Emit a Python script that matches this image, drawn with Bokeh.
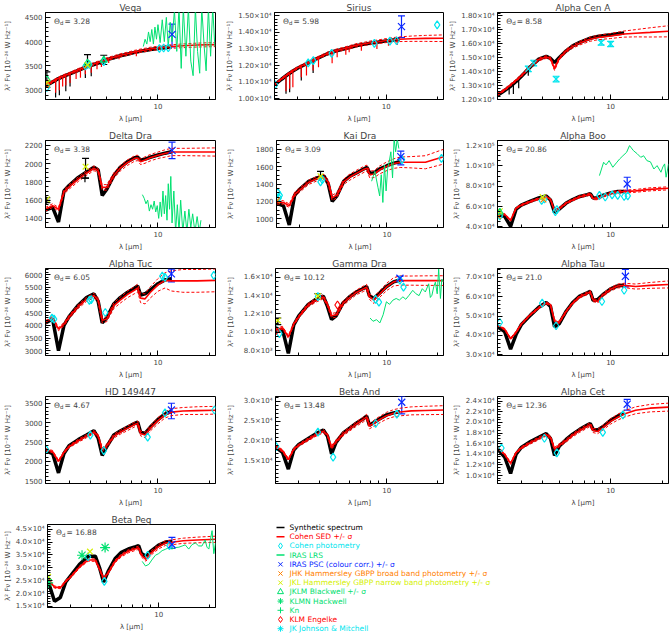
import math
from bokeh.plotting import figure
from bokeh.layouts import column, row
from bokeh.models import Range1d, FixedTicker, Whisker, TeeHead, ColumnDataSource, Label
from bokeh.embed import file_html
from bokeh.resources import INLINE
from bokeh.core.properties import value

FONT = "DejaVu Sans"
C_BLACK = "#000000"
C_RED = "#ff0000"
C_CYAN = "#00e5ee"
C_GREEN = "#00e070"
C_BLUE = "#0a28ff"
C_ORANGE = "#ff8000"
C_YELLOW = "#d4f000"

X_RANGE = (2.18, 21.8)
X_TICKS = [10]
X_TICK_LABELS = {10: "10"}
X_MINOR = [3, 4, 5, 6, 7, 8, 9, 20]

# common wavelength grid (micron)
WL = [2.18, 2.4, 2.6, 2.8, 3.0, 3.4, 3.8, 4.2, 4.45, 4.7, 5.0, 5.5, 6.0, 6.6, 7.3, 7.6, 7.9, 8.4, 9.0, 10.0, 11.0, 12.0, 14.0, 17.0, 21.8]

# ---------------- Vega
SED_VEGA = [3100, 3180, 3250, 3300, 3340, 3420, 3490, 3540, 3570, 3600, 3640, 3680, 3720, 3750, 3790, 3800, 3815, 3830, 3850, 3870, 3885, 3900, 3915, 3930, 3940]
SYN_VEGA = [3090, 3170, 3240, 3290, 3330, 3410, 3480, 3530, 3560, 3590, 3630, 3670, 3710, 3740, 3780, 3790, 3805, 3820, 3840, 3860, 3875, 3890]
SIG_VEGA = [25, 25, 25, 25, 25, 28, 28, 30, 30, 30, 30, 30, 32, 32, 32, 32, 34, 34, 35, 35, 36, 36, 38, 40, 42]
SPK_RED_VEGA = [(2.5, 3215, 2950), (2.63, 3255, 3000), (2.75, 3290, 3080), (2.87, 3310, 3100), (3.04, 3345, 3150), (3.3, 3400, 3230), (3.5, 3440, 3260), (3.74, 3480, 3330), (4.05, 3520, 3360), (4.38, 3560, 3430), (4.65, 3595, 3480), (5.13, 3650, 3560), (5.9, 3715, 3640), (7.46, 3795, 3700)]
SPK_BLK_VEGA = [(2.5, 3210, 2850), (2.63, 3250, 2900), (2.87, 3300, 2980), (3.04, 3340, 3080), (3.74, 3475, 3250), (4.05, 3515, 3290)]
LRS_VEGA = [(8.2, 3900), (8.4, 4050), (8.6, 3950), (8.8, 4200), (9.0, 4000), (9.2, 4250), (9.4, 3950), (9.6, 4300), (9.8, 4050), (10.0, 4350), (10.3, 3980), (10.6, 4450), (10.9, 4000), (11.2, 4500), (11.5, 3900), (11.8, 4400), (12.1, 4000), (12.5, 4650), (12.9, 3800), (13.3, 4700), (13.7, 3450), (14.1, 4700), (14.6, 3700), (15.1, 4700), (15.6, 3600), (16.1, 3300), (16.6, 4700), (17.1, 3800), (17.6, 3350), (18.1, 4700), (18.7, 3900), (19.2, 3400), (19.8, 4700), (20.4, 3700), (21.0, 4700), (21.6, 3900)]
COHEN_VEGA = [(2.22, 3060), (3.75, 3500), (3.95, 3530), (4.8, 3590), (10.2, 3860), (10.8, 3870), (11.5, 3875)]
BLACKWELL_VEGA = [(2.22, 3230, 3060, 3380), (3.85, 3560, 3530, 3735), (4.8, 3620, 3530, 3720)]
JKL_VEGA = [(2.22, 3160), (3.85, 3520)]
JHK_VEGA = [(2.2, 3120)]
PSC_VEGA = [(12.1, 4150, 3890, 4360)]

# ---------------- Sirius
SED_SIR = [10860, 11200, 11470, 11700, 11880, 12150, 12400, 12600, 12720, 12810, 12900, 13000, 13100, 13220, 13300, 13330, 13360, 13400, 13440, 13510, 13560, 13590, 13620, 13640, 13650]
SYN_SIR = [10840, 11180, 11450, 11680, 11860, 12130, 12380, 12580, 12700, 12790, 12880, 12980, 13080, 13200, 13280, 13310, 13340, 13380, 13420, 13490, 13540, 13570]
SIG_SIR = [60, 60, 60, 60, 70, 70, 70, 80, 80, 80, 80, 90, 90, 100, 100, 100, 110, 110, 110, 120, 130, 140, 160, 180, 200]
SPK_RED_SIR = [(2.55, 11350, 10450), (2.68, 11500, 10600), (2.80, 11700, 10700), (3.14, 11980, 11300), (3.37, 12130, 11400), (3.69, 12340, 11700), (3.97, 12500, 11900), (4.78, 12830, 12150), (5.12, 12920, 12500), (5.76, 13050, 12650), (6.03, 13100, 12800), (7.12, 13280, 12900), (8.8, 13420, 13000), (10.3, 13520, 13200), (11.6, 13570, 13250)]
SPK_BLK_SIR = [(2.55, 11340, 10300), (2.68, 11490, 10400), (3.14, 11970, 11100), (3.69, 12330, 11550)]
COHEN_SIR = [(2.2, 10850), (3.45, 12170), (3.7, 12300), (4.75, 12740), (8.5, 13340), (10.5, 13480), (11.5, 13500), (20.0, 14450)]
PSC_SIR = [(12.3, 14350, 13690, 15000)]

# ---------------- Alpha Cen A
SED_ACEN = [12360, 12700, 13050, 13380, 13700, 14380, 14880, 15050, 14950, 14200, 14950, 15500, 15800, 16050, 16250, 16330, 16380, 16450, 16500, 16560, 16640, 16700, 16760, 16820, 16900]
SYN_ACEN = [12300, 12650, 12950, 13300, 13650, 14350, 14900, 15100, 14950, 14650, 15000, 15500, 15850, 16100, 16320, 16400, 16450, 16520, 16580, 16650, 16720, 16780]
SIG_ACEN = [80, 80, 80, 80, 90, 90, 100, 100, 100, 110, 110, 120, 120, 130, 140, 150, 150, 160, 170, 180, 200, 220, 260, 330, 400]
SPK_BLK_ACEN = [(2.55, 12950, 12360), (2.7, 13200, 12400), (2.9, 13500, 12800), (3.3, 14200, 13700)]
CYANERR_ACEN = [(3.3, 14200, 14000, 14400), (3.55, 14620, 14420, 14820), (4.8, 13470, 13270, 13670), (8.8, 16090, 15900, 16280), (10.0, 15990, 15800, 16180)]

# ---------------- Delta Dra
SED_DDRA = [1500, 1540, 1500, 1690, 1745, 1830, 1895, 1950, 1920, 1740, 1740, 1870, 1950, 2010, 2058, 2063, 2020, 2040, 2065, 2092, 2112, 2128, 2128, 2128, 2128]
SYN_DDRA = [1490, 1520, 1360, 1700, 1760, 1850, 1910, 1960, 1930, 1650, 1720, 1870, 1960, 2020, 2065, 2070, 2040, 2050, 2070, 2095, 2115, 2130]
SIG_DDRA = [20, 20, 20, 25, 25, 25, 25, 25, 25, 30, 30, 30, 30, 30, 30, 30, 30, 35, 35, 35, 40, 40, 40, 42, 45]
LRS_DDRA = [(8.1, 1660), (8.3, 1620), (8.5, 1560), (8.7, 1600), (8.9, 1480), (9.1, 1550), (9.3, 1500), (9.5, 1590), (9.7, 1470), (9.9, 1540), (10.1, 1400), (10.3, 1580), (10.5, 1420), (10.7, 1700), (10.9, 1450), (11.1, 1650), (11.3, 1380), (11.5, 1780), (11.7, 1500), (11.9, 1860), (12.1, 1350), (12.4, 1700), (12.7, 1250), (13.0, 1550), (13.3, 1250), (13.6, 1600), (14.0, 1250), (14.4, 1480), (14.8, 1250), (15.2, 1500), (15.6, 1300), (16.0, 1450), (16.5, 1250), (17.0, 1420), (17.5, 1250), (17.9, 1380)]
JKL_DDRA = [(2.22, 1610, 1572, 1626), (3.75, 1967, 1841, 2057)]
KN_DDRA = [(2.2, 1597), (3.72, 1841)]
PSC_DDRA = [(12.1, 2146, 2056, 2236)]

# ---------------- Kai Dra
SED_KDRA = [1190, 1188, 1150, 1282, 1330, 1420, 1460, 1480, 1420, 1240, 1270, 1425, 1480, 1525, 1570, 1582, 1507, 1515, 1560, 1605, 1635, 1650, 1650, 1650, 1714]
SYN_KDRA = [1180, 1150, 930, 1270, 1340, 1430, 1470, 1490, 1400, 1200, 1260, 1430, 1490, 1530, 1575, 1590, 1520, 1530, 1570, 1610, 1640, 1655]
SIG_KDRA = [20, 20, 20, 25, 25, 25, 25, 30, 30, 30, 30, 30, 35, 35, 35, 35, 40, 40, 45, 50, 55, 60, 65, 75, 85]
LRS_KDRA = [(8.09, 1432), (8.46, 1545), (8.84, 1357), (9.04, 1263), (9.24, 1507), (9.45, 1188), (9.66, 1620), (9.88, 1320), (10.1, 1582), (10.32, 1657), (10.55, 1770), (10.8, 1470), (11.03, 1920), (11.27, 1770), (11.52, 1920), (11.78, 1807)]
COHEN_KDRA = [(2.22, 1300), (2.28, 1270), (2.25, 1240), (4.0, 1425), (4.1, 1450), (12.3, 1680), (21.2, 1695)]
JHK_KDRA = [(2.2, 1210)]
JKL_KDRA = [(4.0, 1490, 1470, 1545)]
PSC_KDRA = [(12.1, 1714, 1620, 1777)]

# ---------------- Alpha Boo
SED_ABOO = [52800, 52500, 46500, 58500, 61500, 65000, 67800, 69800, 67000, 56000, 58000, 63500, 66500, 69800, 71500, 72500, 68000, 68000, 70500, 73000, 74500, 74800, 75500, 77000, 78000]
SYN_ABOO = [52000, 50500, 40500, 57500, 61500, 65500, 68500, 70500, 66500, 54500, 57500, 63500, 67000, 70000, 71800, 72800, 68500, 68800, 71000, 73500, 74800, 75000]
SIG_ABOO = [800, 800, 800, 800, 800, 900, 900, 900, 900, 1000, 1000, 1000, 1000, 1100, 1100, 1100, 1200, 1200, 1200, 1300, 1300, 1400, 1400, 1500, 1500]
LRS_ABOO = [(8.6, 90500), (9.1, 103600), (9.4, 101000), (9.8, 105200), (10.3, 98700), (10.8, 103000), (11.3, 106900), (11.8, 110000), (12.4, 113400), (12.9, 120000), (13.6, 115000), (14.3, 112000), (15.0, 108500), (15.6, 110000), (16.3, 105200), (17.1, 104000), (17.9, 97000), (18.7, 100300), (19.7, 93800), (20.2, 99000), (20.7, 102000), (21.1, 88900), (21.5, 96000), (21.8, 102000)]
COHEN_ABOO = [(2.25, 51000), (3.95, 66000), (4.1, 67500), (4.75, 55000), (4.85, 57000), (8.6, 71000), (9.3, 69500), (10.2, 71500), (11.0, 71000), (12.0, 70000), (12.6, 70500)]
JHK_ABOO = [(2.2, 50500), (4.05, 67000)]
JKL_ABOO = [(2.25, 55500), (4.0, 69500)]
BLACKWELL_ABOO = [(2.25, 54500)]
PSC_ABOO = [(12.5, 82300, 75700, 88900)]

# ---------------- Alpha Tuc
SED_ATUC = [4130, 4300, 3850, 4050, 4330, 4750, 5030, 5180, 5000, 4200, 4250, 4780, 5000, 5220, 5400, 5480, 5080, 5050, 5300, 5600, 5780, 5760, 5760, 5760, 5780]
SYN_ATUC = [4100, 4250, 3000, 4000, 4350, 4800, 5100, 5250, 4950, 4100, 4300, 4850, 5100, 5300, 5480, 5560, 5200, 5250, 5400, 5650, 5800, 5850]
SIG_ATUC = [60, 60, 60, 70, 70, 80, 80, 90, 90, 100, 100, 110, 120, 130, 140, 150, 180, 200, 220, 250, 300, 400, 450, 450, 450]
COHEN_ATUC = [(2.38, 4290), (2.45, 4250), (3.95, 4990), (4.05, 5020), (4.9, 4510), (10.6, 5950), (11.0, 5900), (21.3, 5975)]
PSC_ATUC = [(12.0, 6038, 5720, 6229)]

# ---------------- Gamma Dra
SED_GDRA = [10300, 10500, 9500, 10900, 11700, 12950, 13500, 13850, 13000, 11800, 11900, 13150, 13750, 14350, 14760, 14930, 13900, 13500, 14100, 14950, 15500, 15640, 15640, 15640, 15640]
SYN_GDRA = [10200, 10300, 7700, 10800, 11800, 13000, 13600, 13950, 12800, 11400, 11800, 13200, 13850, 14400, 14800, 15000, 14000, 13700, 14200, 15000, 15500, 15700]
SIG_GDRA = [150, 150, 150, 150, 150, 200, 200, 200, 200, 250, 250, 250, 250, 250, 300, 300, 300, 350, 350, 400, 450, 500, 500, 520, 530]
LRS_GDRA = [(7.97, 11560), (8.3, 11200), (8.71, 11380), (9.11, 11020), (9.53, 11910), (9.97, 13330), (10.4, 13050), (10.9, 13510), (11.4, 13690), (11.9, 13510), (12.5, 13870), (13.0, 13600), (13.6, 14040), (14.3, 14580), (14.9, 14220), (15.6, 14000), (16.3, 14760), (17.0, 14400), (17.8, 15290), (18.2, 13800), (18.6, 14040), (19.1, 15000), (19.5, 15470), (20.0, 14200), (20.4, 16890), (20.9, 13690), (21.3, 15800), (21.8, 15470)]
COHEN_GDRA = [(2.2, 10300), (2.3, 9850), (3.9, 13900), (8.6, 13600), (9.0, 13300), (12.0, 15700), (12.6, 14930)]
ENGELKE_GDRA = [(2.2, 10200), (5.1, 12980)]
JKL_GDRA = [(2.25, 11300, 10840, 11560), (3.9, 13950, 13690, 14220)]
PSC_GDRA = [(12.0, 15890, 15640, 16100)]

# ---------------- Alpha Tau
SED_ATAU = [45000, 43300, 38300, 41700, 45800, 50800, 54200, 56700, 55800, 47500, 46700, 52500, 56700, 60000, 61700, 62500, 58300, 57500, 60800, 63800, 65500, 65800, 65200, 65800, 66300]
SYN_ATAU = [44500, 42000, 33000, 40500, 45500, 50500, 54500, 57000, 55000, 44500, 46000, 52500, 57000, 60300, 62000, 62700, 58000, 58500, 61000, 64000, 65500, 66000]
SIG_ATAU = [400, 400, 500, 500, 500, 500, 500, 500, 500, 600, 600, 600, 600, 700, 700, 700, 800, 800, 800, 900, 1000, 1100, 1300, 1500, 1800]
COHEN_ATAU = [(2.25, 46700), (3.98, 56700), (4.8, 45000), (8.9, 57500), (12.0, 63300)]
PSC_ATAU = [(12.2, 70500, 65000, 74000)]

# ---------------- HD 149447
SED_HD = [2300, 2250, 2000, 2230, 2380, 2530, 2650, 2760, 2650, 2300, 2400, 2650, 2750, 2850, 2950, 2980, 2720, 2680, 2850, 3050, 3200, 3270, 3300, 3310, 3320]
SYN_HD = [2280, 2200, 1700, 2200, 2400, 2560, 2680, 2790, 2600, 2150, 2380, 2680, 2780, 2880, 2980, 3010, 2750, 2720, 2880, 3080, 3220, 3290]
SIG_HD = [30, 30, 30, 30, 30, 40, 40, 40, 40, 50, 50, 50, 50, 60, 60, 60, 60, 70, 70, 80, 80, 90, 90, 100, 100]
COHEN_HD = [(2.2, 2300), (4.0, 2675), (4.8, 2275), (8.7, 2625), (11.0, 3250), (21.5, 3325)]
PSC_HD = [(12.0, 3325, 3100, 3500)]

# ---------------- Beta And
SED_BAND = [18700, 17600, 15400, 18000, 19000, 20400, 21600, 22500, 21500, 18400, 19900, 21800, 23000, 24300, 25500, 26100, 23800, 24500, 25300, 26400, 27000, 27300, 27600, 27700, 27800]
SYN_BAND = [18500, 17200, 13000, 17800, 19200, 20600, 21900, 22800, 21200, 16800, 19700, 22000, 23200, 24500, 25700, 26300, 24000, 24700, 25500, 26600, 27100, 27400]
SIG_BAND = [300, 300, 300, 300, 300, 350, 350, 400, 400, 450, 450, 500, 500, 550, 600, 650, 700, 750, 800, 850, 900, 950, 1000, 1050, 1100]
COHEN_BAND = [(2.2, 18650), (3.9, 22270), (4.8, 16000), (8.6, 24440), (11.5, 26800)]
PSC_BAND = [(12.3, 29760, 26860, 31200)]

# ---------------- Alpha Cet
SED_ACET = [15300, 14000, 12300, 14300, 15200, 16200, 17000, 17700, 17200, 15000, 15700, 16600, 17600, 18500, 19300, 19600, 18500, 18300, 19000, 20200, 21000, 21600, 22300, 22700, 22900]
SYN_ACET = [15000, 13500, 10400, 14000, 15300, 16400, 17200, 17900, 17000, 13800, 15500, 16800, 17800, 18700, 19500, 19800, 18700, 18600, 19200, 20400, 21200, 21800]
SIG_ACET = [200, 200, 200, 200, 200, 250, 250, 250, 250, 300, 300, 300, 300, 350, 350, 350, 400, 400, 450, 500, 550, 600, 650, 700, 750]
COHEN_ACET = [(2.3, 15190), (4.1, 17030), (4.85, 14280), (9.0, 18130), (11.8, 21430)]
PSC_ACET = [(12.5, 23450, 22350, 24370)]

# ---------------- Beta Peg
SED_BPEG = [25950, 22500, 22300, 24800, 26500, 30500, 33000, 33000, 29500, 25800, 28000, 32500, 34800, 36400, 37400, 37800, 34880, 33300, 35700, 38200, 39600, 39900, 40500, 40800, 41070]
SYN_BPEG = [25500, 17000, 18500, 24500, 27000, 31500, 34500, 34500, 30000, 24500, 28500, 33500, 36000, 37300, 38200, 38600, 35500, 34500, 36500, 38800, 40000, 40200]
SIG_BPEG = [400, 400, 400, 400, 400, 450, 450, 500, 500, 500, 500, 550, 550, 600, 600, 650, 700, 750, 800, 850, 900, 950, 1000, 1100, 1200]
LRS_BPEG = [(7.98, 32500), (8.35, 30710), (8.74, 31310), (9.1, 33000), (9.57, 34880), (10.0, 35500), (10.49, 36670), (11.0, 37200), (11.5, 37860), (12.0, 37300), (12.6, 37860), (13.2, 38000), (13.8, 38450), (14.4, 38900), (15.1, 37260), (15.8, 39000), (16.56, 39640), (17.3, 38500), (18.1, 38450), (18.9, 40830), (19.4, 38000), (19.9, 37260), (20.4, 41500), (20.8, 44400), (21.3, 35480), (21.8, 39640)]
COHEN_BPEG = [(2.2, 25360), (3.8, 34290), (4.75, 24760), (8.6, 34880), (11.6, 38600)]
JKL_BPEG = [(2.2, 26550), (3.9, 36310)]
HACKWELL_BPEG = [(2.2, 24170), (3.5, 34880), (4.8, 37860)]
PSC_BPEG = [(12.0, 39050, 37500, 41790)]

NAMES = ["Vega", "Sirius", "Alpha Cen A", "Delta Dra", "Kai Dra", "Alpha Boo", "Alpha Tuc", "Gamma Dra", "Alpha Tau", "HD 149447", "Beta And", "Alpha Cet", "Beta Peg"]
THETA = ["3.28", "5.98", "8.58", "3.38", "3.09", "20.86", "6.05", "10.12", "21.0", "4.67", "13.48", "12.36", "16.88"]
Y_RANGES = [(2810, 4600), (9960, 15200), (12000, 18250), (1300, 2254), (900, 1900), (39500, 125000), (2810, 6250), (7470, 16960), (29700, 74500), (1425, 3675), (9400, 31200), (8500, 24900), (14600, 46800)]
Y_TICKS = [
    [3000, 3500, 4000, 4500],
    [10000, 11000, 12000, 13000, 14000, 15000],
    [12000, 13000, 14000, 15000, 16000, 17000, 18000],
    [1400, 1600, 1800, 2000, 2200],
    [1000, 1200, 1400, 1600, 1800],
    [40000, 60000, 80000, 100000, 120000],
    [3000, 3500, 4000, 4500, 5000, 5500, 6000],
    [8000, 10000, 12000, 14000, 16000],
    [30000, 40000, 50000, 60000, 70000],
    [1500, 2000, 2500, 3000, 3500],
    [15000, 20000, 25000, 30000],
    [10000, 12000, 14000, 16000, 18000, 20000, 22000, 24000],
    [15000, 20000, 25000, 30000, 35000, 40000, 45000],
]
Y_DEC = [None, 2, 2, None, None, 1, None, 1, 1, None, 1, 1, 1]

SEDS = [SED_VEGA, SED_SIR, SED_ACEN, SED_DDRA, SED_KDRA, SED_ABOO, SED_ATUC, SED_GDRA, SED_ATAU, SED_HD, SED_BAND, SED_ACET, SED_BPEG]
SYNS = [SYN_VEGA, SYN_SIR, SYN_ACEN, SYN_DDRA, SYN_KDRA, SYN_ABOO, SYN_ATUC, SYN_GDRA, SYN_ATAU, SYN_HD, SYN_BAND, SYN_ACET, SYN_BPEG]
SIGS = [SIG_VEGA, SIG_SIR, SIG_ACEN, SIG_DDRA, SIG_KDRA, SIG_ABOO, SIG_ATUC, SIG_GDRA, SIG_ATAU, SIG_HD, SIG_BAND, SIG_ACET, SIG_BPEG]
RED_SPIKES = {0: SPK_RED_VEGA, 1: SPK_RED_SIR}
BLK_SPIKES = {0: SPK_BLK_VEGA, 1: SPK_BLK_SIR, 2: SPK_BLK_ACEN}
LRS = {0: LRS_VEGA, 3: LRS_DDRA, 4: LRS_KDRA, 5: LRS_ABOO, 7: LRS_GDRA, 12: LRS_BPEG}
PHOT = {
    0: [("cohen", COHEN_VEGA), ("blackwell", BLACKWELL_VEGA), ("jkl", JKL_VEGA), ("jhk", JHK_VEGA), ("psc", PSC_VEGA)],
    1: [("cohen", COHEN_SIR), ("psc", PSC_SIR)],
    2: [("cyanerr", CYANERR_ACEN)],
    3: [("jkl", JKL_DDRA), ("kn", KN_DDRA), ("psc", PSC_DDRA)],
    4: [("cohen", COHEN_KDRA), ("jhk", JHK_KDRA), ("jkl", JKL_KDRA), ("psc", PSC_KDRA)],
    5: [("cohen", COHEN_ABOO), ("jhk", JHK_ABOO), ("jkl", JKL_ABOO), ("blackwell", BLACKWELL_ABOO), ("psc", PSC_ABOO)],
    6: [("cohen", COHEN_ATUC), ("psc", PSC_ATUC)],
    7: [("cohen", COHEN_GDRA), ("engelke", ENGELKE_GDRA), ("jkl", JKL_GDRA), ("psc", PSC_GDRA)],
    8: [("cohen", COHEN_ATAU), ("psc", PSC_ATAU)],
    9: [("cohen", COHEN_HD), ("psc", PSC_HD)],
    10: [("cohen", COHEN_BAND), ("psc", PSC_BAND)],
    11: [("cohen", COHEN_ACET), ("psc", PSC_ACET)],
    12: [("cohen", COHEN_BPEG), ("jkl", JKL_BPEG), ("hackwell", HACKWELL_BPEG), ("psc", PSC_BPEG)],
}

LEG_LABELS = ["Synthetic spectrum", "Cohen SED +/- σ", "Cohen photometry", "IRAS LRS",
              "IRAS PSC (colour corr.) +/- σ", "JHK Hammersley GBPP broad band photometry +/- σ",
              "JKL Hammersley GBPP narrow band photometry +/- σ", "JKLM Blackwell +/- σ",
              "KLMN Hackwell", "Kn", "KLM Engelke", "JK Johnson & Mitchell"]
LEG_COLORS = [C_BLACK, C_RED, C_CYAN, C_GREEN, C_BLUE, C_ORANGE, C_YELLOW, C_GREEN, C_GREEN, C_GREEN, C_RED, C_CYAN]
LEG_MARKERS = [None, None, "diamond", None, "x", "x", "x", "triangle", "asterisk", "cross", "diamond", "asterisk"]

STYLE = {
    "cohen": ("diamond", C_CYAN, 8),
    "psc": ("x", C_BLUE, 10),
    "jhk": ("x", C_ORANGE, 8),
    "jkl": ("x", C_YELLOW, 8),
    "blackwell": ("triangle", C_GREEN, 7),
    "hackwell": ("asterisk", C_GREEN, 10),
    "kn": ("cross", C_BLACK, 8),
    "engelke": ("diamond", C_RED, 8),
    "johnson": ("asterisk", C_CYAN, 9),
    "cyanerr": ("x", C_CYAN, 8),
}
ERR_COLOR = {"psc": C_BLUE, "cyanerr": C_CYAN}

SUP = str.maketrans("0123456789-", "⁰¹²³⁴⁵⁶⁷⁸⁹⁻")


def fmt(v, dec):
    if dec is None:
        return str(v)
    e = int(math.floor(math.log10(v) + 1e-9))
    m = v / 10 ** e
    return f"{m:.{dec}f}×10" + str(e).translate(SUP)


def text_w(s, fs):
    w = 0.0
    for ch in s:
        if ch.isdigit():
            w += 0.636
        elif ch == ".":
            w += 0.318
        elif ch == "×":
            w += 0.838
        else:
            w += 0.45
    return w * fs


COL_LEFT = [43, 48, 51]
COL_RIGHT = [8, 3, 1]
YLAB_TARGET = [12, 9, 16]
LEG_TOP = 15.0
LEG_STEP = 9.2


def add_points(p, kind, pts):
    marker, color, size = STYLE[kind]
    p.scatter(x=[t[0] for t in pts], y=[t[1] for t in pts], marker=marker, size=size,
              line_color=color, fill_color=None, line_width=1.2)
    errs = [t for t in pts if len(t) == 4]
    if errs:
        ec = ERR_COLOR.get(kind, C_BLACK)
        src = ColumnDataSource(dict(x=[t[0] for t in errs], lo=[t[2] for t in errs], hi=[t[3] for t in errs]))
        p.add_layout(Whisker(source=src, base="x", lower="lo", upper="hi", dimension="height",
                             line_color=ec, line_width=1.2,
                             upper_head=TeeHead(size=7, line_color=ec, line_width=1.2),
                             lower_head=TeeHead(size=7, line_color=ec, line_width=1.2)))


def make_panel(i, col, last):
    h = 121 if last else 128
    top = 9 if last else 10
    bottom = 23 if last else 29
    yr = Y_RANGES[i]
    yt = Y_TICKS[i]
    step = yt[1] - yt[0]
    n = 4 if str(step)[0] == "2" else 5
    ms = step / n
    ym = []
    v = yt[0] - step
    while v <= yr[1]:
        if v >= yr[0]:
            ym.append(v)
        v += ms
    p = figure(width=223, height=h, x_axis_type="log",
               x_range=Range1d(*X_RANGE), y_range=Range1d(*yr),
               output_backend="svg", toolbar_location=None,
               min_border_left=COL_LEFT[col], min_border_right=COL_RIGHT[col],
               min_border_top=top, min_border_bottom=bottom,
               title=NAMES[i])
    p.title.text_font = FONT
    p.title.text_font_size = "9px"
    p.title.text_font_style = "normal"
    p.title.align = "center"
    p.title.standoff = 0
    p.title.offset = 0
    p.grid.visible = False
    p.outline_line_color = "black"
    p.background_fill_color = "white"
    p.border_fill_color = "white"

    labels = {t: fmt(t, Y_DEC[i]) for t in yt}
    maxw = max(text_w(s, 7) for s in labels.values())
    so = max(1, int(round(COL_LEFT[col] - 3 - maxw - YLAB_TARGET[col])))

    for ax in (p.xaxis, p.yaxis):
        ax.major_label_text_font = FONT
        ax.major_label_text_font_size = "7px"
        ax.axis_label_text_font = FONT
        ax.axis_label_text_font_size = "7px"
        ax.axis_label_text_font_style = "normal"
        ax.major_tick_in = 5
        ax.major_tick_out = 0
        ax.minor_tick_in = 3
        ax.minor_tick_out = 0
        ax.major_label_standoff = 3
        ax.axis_line_color = "black"
        ax.major_tick_line_color = "black"
        ax.minor_tick_line_color = "black"
    p.xaxis.ticker = FixedTicker(ticks=X_TICKS, minor_ticks=X_MINOR)
    p.xaxis.major_label_overrides = X_TICK_LABELS
    p.xaxis.axis_label = "λ [μm]"
    p.xaxis.axis_label_standoff = 3
    p.yaxis.ticker = FixedTicker(ticks=yt, minor_ticks=ym)
    p.yaxis.major_label_overrides = labels
    p.yaxis.axis_label = "λ² Fν [10⁻²⁶ W Hz⁻¹]"
    p.yaxis.axis_label_standoff = so

    sed = SEDS[i]
    syn = SYNS[i]
    sig = SIGS[i]
    p.line(x=WL[:len(syn)], y=syn, line_color=C_BLACK, line_width=3.5)
    if i in BLK_SPIKES:
        s = BLK_SPIKES[i]
        p.segment(x0=[t[0] for t in s], y0=[t[1] for t in s], x1=[t[0] for t in s], y1=[t[2] for t in s],
                  line_color=C_BLACK, line_width=1.2)
    p.line(x=WL, y=sed, line_color=C_RED, line_width=1.6)
    p.line(x=WL, y=[a + b for a, b in zip(sed, sig)], line_color=C_RED, line_width=1, line_dash="3 2")
    p.line(x=WL, y=[a - b for a, b in zip(sed, sig)], line_color=C_RED, line_width=1, line_dash="3 2")
    if i in RED_SPIKES:
        s = RED_SPIKES[i]
        p.segment(x0=[t[0] for t in s], y0=[t[1] for t in s], x1=[t[0] for t in s], y1=[t[2] for t in s],
                  line_color=C_RED, line_width=1.2)
    if i in LRS:
        l = LRS[i]
        p.line(x=[t[0] for t in l], y=[t[1] for t in l], line_color=C_GREEN, line_width=1)
    for kind, pts in PHOT.get(i, []):
        add_points(p, kind, pts)

    ytxt = yr[1] - 0.1 * (yr[1] - yr[0])
    p.add_layout(Label(x=2.45, y=ytxt, text="Θ", text_font=FONT, text_font_size="7.5px", text_baseline="middle"))
    p.add_layout(Label(x=2.45, y=ytxt, x_offset=6, y_offset=-2, text="d", text_font=FONT, text_font_size="5.5px", text_baseline="middle"))
    p.add_layout(Label(x=2.45, y=ytxt, x_offset=10.5, text="= " + THETA[i], text_font=FONT, text_font_size="7.5px", text_baseline="middle"))
    return p


def make_legend():
    lg = figure(width=446, height=121, x_range=Range1d(0, 446), y_range=Range1d(121, 0),
                output_backend="svg", toolbar_location=None,
                min_border=0, min_border_left=0, min_border_right=0, min_border_top=0, min_border_bottom=0,
                x_axis_location=None, y_axis_location=None)
    lg.grid.visible = False
    lg.outline_line_color = None
    ys = [LEG_TOP + LEG_STEP * k for k in range(len(LEG_LABELS))]
    li = [k for k, m in enumerate(LEG_MARKERS) if m is None]
    lg.segment(x0=[53] * len(li), y0=[ys[k] for k in li], x1=[61] * len(li), y1=[ys[k] for k in li],
               line_color=[LEG_COLORS[k] for k in li], line_width=1.5)
    mi = [k for k, m in enumerate(LEG_MARKERS) if m is not None]
    lg.scatter(x=[57] * len(mi), y=[ys[k] for k in mi], marker=[LEG_MARKERS[k] for k in mi],
               size=6, line_color=[LEG_COLORS[k] for k in mi], fill_color=None, line_width=1)
    lg.text(x=[66] * len(LEG_LABELS), y=ys, text=LEG_LABELS, text_color=LEG_COLORS,
            text_font=value(FONT), text_font_size=value("7.5px"), text_baseline="middle")
    return lg


panels = [make_panel(i, i % 3, i == 12) for i in range(13)]
rows = [row(panels[r * 3:(r + 1) * 3], spacing=0) for r in range(4)]
rows.append(row([panels[12], column([make_legend()], spacing=0)], spacing=0))
layout = column(rows, spacing=0)

open("out.html", "w").write(file_html(layout, INLINE))
